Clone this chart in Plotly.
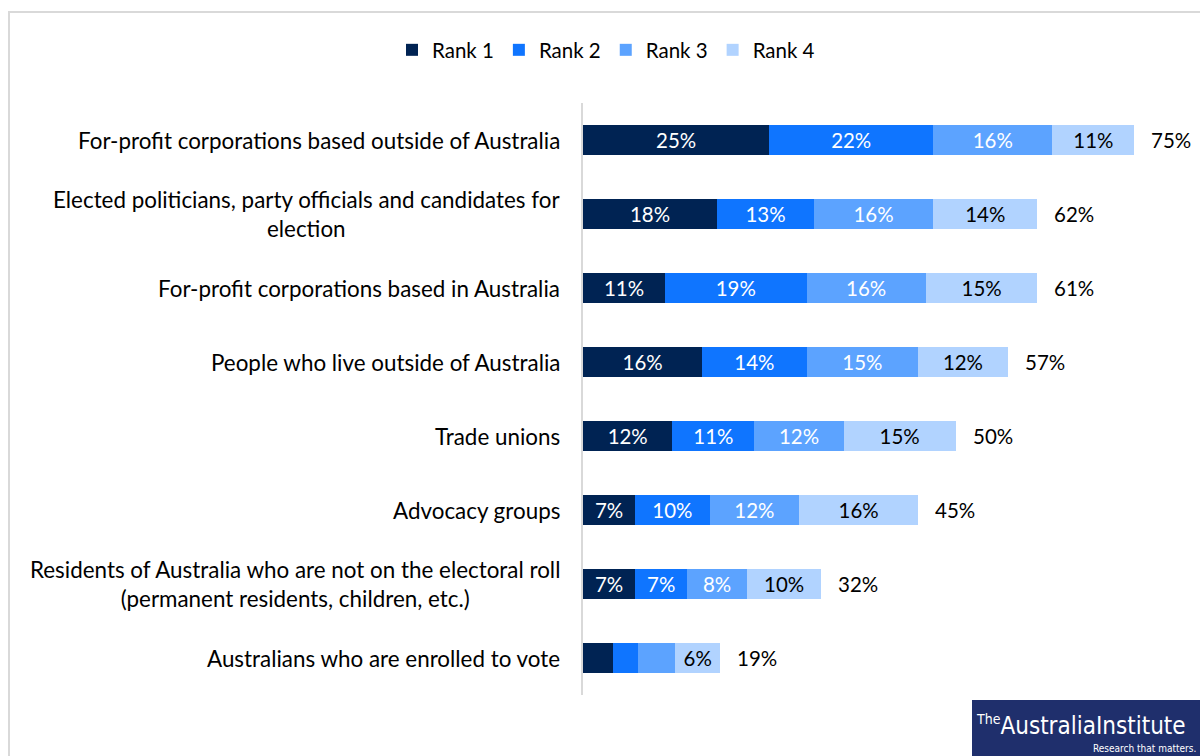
import plotly.graph_objects as go

# Survey categories (top to bottom)
categories = [
    "For-profit corporations based outside of Australia",
    "Elected politicians, party officials and candidates for<br>election",
    "For-profit corporations based in Australia",
    "People who live outside of Australia",
    "Trade unions",
    "Advocacy groups",
    "Residents of Australia who are not on the electoral roll<br>(permanent residents, children, etc.)",
    "Australians who are enrolled to vote",
]

rank1 = [25, 18, 11, 16, 12, 7, 7, 4]
rank2 = [22, 13, 19, 14, 11, 10, 7, 3.4]
rank3 = [16, 16, 16, 15, 12, 12, 8, 5]
rank4 = [11, 14, 15, 12, 15, 16, 10, 6]
totals = ["75%", "62%", "61%", "57%", "50%", "45%", "32%", "19%"]

series_names = ["Rank 1", "Rank 2", "Rank 3", "Rank 4"]
series_values = [rank1, rank2, rank3, rank4]
colors = ["#002353", "#0F75FF", "#5CA3FF", "#B1D3FF"]
label_colors = ["white", "white", "white", "black"]

FONT = "Lato"
LOGO_FONT = "DejaVu Sans Condensed, Roboto, sans-serif"
W, H = 1200, 756
ML, MR, MT, MB = 583, 21, 103, 61
PW, PH = W - ML - MR, H - MT - MB


def px_x(x):
    return (x - ML) / PW


def px_y(y):
    return (H - MB - y) / PH


fig = go.Figure()

for name, vals, col, lcol in zip(series_names, series_values, colors, label_colors):
    # segments too narrow for a label are left unlabelled
    labels = [f"{v:.0f}%" if v >= 6 else None for v in vals]
    fig.add_trace(go.Bar(
        name=name,
        y=categories,
        x=vals,
        orientation="h",
        marker=dict(color=col, line=dict(width=0)),
        text=labels,
        textposition="inside",
        insidetextanchor="middle",
        textangle=0,
        textfont=dict(color=lcol, size=20.5, family=FONT),
        hoverinfo="skip",
    ))

annotations = []

# Total labels at the end of each stacked bar
for cat, a, b, c, d, t in zip(categories, rank1, rank2, rank3, rank4, totals):
    annotations.append(dict(
        x=a + b + c + d, y=cat, xref="x", yref="y",
        text=t, showarrow=False, xanchor="left", xshift=15,
        font=dict(size=20.5, color="black", family=FONT),
    ))

# Category labels, right aligned against the axis, lines centred
for cat in categories:
    annotations.append(dict(
        x=0, y=cat, xref="paper", yref="y",
        text=cat, showarrow=False, xanchor="right", xshift=-21,
        align="center",
        font=dict(size=22.4, color="black", family=FONT),
    ))

# Publisher logo text
annotations.append(dict(
    x=px_x(1188), y=px_y(725), xref="paper", yref="paper",
    text="<sup><span style='font-size:14px'>The</span></sup>AustraliaInstitute",
    showarrow=False, xanchor="right", yanchor="middle",
    font=dict(size=24, color="white", family=LOGO_FONT),
))
annotations.append(dict(
    x=px_x(1198), y=px_y(748), xref="paper", yref="paper",
    text="Research that matters.",
    showarrow=False, xanchor="right", yanchor="middle",
    font=dict(size=10, color="white", family=LOGO_FONT),
))

shapes = [
    # chart frame
    dict(type="rect", xref="paper", yref="paper",
         x0=px_x(9), x1=px_x(1210), y0=px_y(770), y1=px_y(12),
         line=dict(color="#D9D9D9", width=2), fillcolor="rgba(0,0,0,0)",
         layer="below"),
    # logo background
    dict(type="rect", xref="paper", yref="paper",
         x0=px_x(972), x1=px_x(1205), y0=px_y(760), y1=px_y(700),
         line=dict(width=0), fillcolor="#1F2F6C", layer="above"),
]

fig.update_layout(
    width=W, height=H,
    barmode="stack",
    bargap=0.595,
    plot_bgcolor="white",
    paper_bgcolor="white",
    margin=dict(l=ML, r=MR, t=MT, b=MB, autoexpand=False),
    font=dict(family=FONT, size=20, color="black"),
    uniformtext=dict(mode="show", minsize=12),
    xaxis=dict(range=[0, PW / 7.45], visible=False, fixedrange=True),
    yaxis=dict(
        categoryorder="array", categoryarray=categories,
        autorange=False, range=[len(categories) - 0.5, -0.5],
        showticklabels=False, ticks="",
        showline=True, linecolor="#D9D9D9", linewidth=2,
        showgrid=False, zeroline=False, fixedrange=True,
    ),
    legend=dict(
        orientation="h", xref="container", yref="container",
        x=0.505, xanchor="center", y=1 - 50 / H, yanchor="middle",
        font=dict(size=20.5, family=FONT),
        traceorder="normal", itemwidth=30,
    ),
    annotations=annotations,
    shapes=shapes,
)

fig.write_html("out.html", config={"displayModeBar": False})
